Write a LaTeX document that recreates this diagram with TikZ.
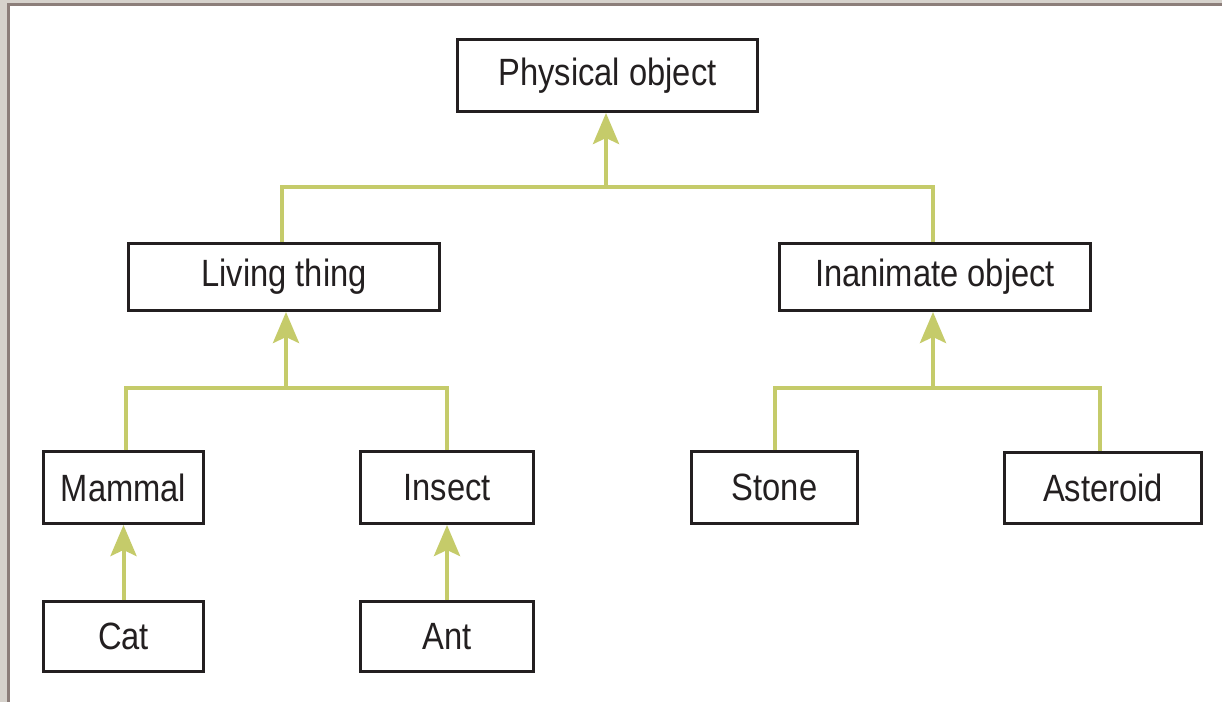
\documentclass[tikz,border=0pt]{standalone}
\usepackage{fontspec}
\setmainfont{Liberation Sans}[FakeStretch=0.86]
\usetikzlibrary{arrows.meta}
\definecolor{conncol}{RGB}{197,203,106}
\definecolor{boxcol}{RGB}{35,31,32}
\definecolor{bggray}{RGB}{214,210,204}
\definecolor{framecol}{RGB}{140,126,122}
\begin{document}
\begin{tikzpicture}[x=1pt,y=-1pt,
  box/.style={draw=boxcol,line width=3pt,fill=white,inner sep=0pt,
    font=\fontsize{38}{42}\selectfont,text=boxcol},
  conn/.style={draw=conncol,line width=4pt},
  arr/.style={conn,-{Stealth[length=31pt,width=26pt,inset=6pt]}}]
\useasboundingbox (0,0) rectangle (1222,702);
\fill[bggray] (0,0) rectangle (1222,702);
\fill[framecol] (7,3) rectangle (1222,702);
\fill[white] (10,6) rectangle (1222,702);
% nodes
\node[box,minimum width=300pt,minimum height=72pt] (phys) at (607.5,75.5) {Physical object};
\node[box,minimum width=311pt,minimum height=67pt] (living) at (284,277) {Living thing};
\node[box,minimum width=311pt,minimum height=67pt] (inan) at (935,277) {Inanimate object};
\node[box,minimum width=160pt,minimum height=72pt] (mammal) at (123.5,487.5) {Mammal};
\node[box,minimum width=173pt,minimum height=72pt] (insect) at (447,487.5) {Insect};
\node[box,minimum width=166pt,minimum height=72pt] (stone) at (774.5,487.5) {Stone};
\node[box,minimum width=197pt,minimum height=71pt] (asteroid) at (1103,488) {Asteroid};
\node[box,minimum width=160pt,minimum height=70pt] (cat) at (123.5,636.5) {Cat};
\node[box,minimum width=173pt,minimum height=70pt] (ant) at (447,636.5) {Ant};
% junctions
\coordinate (j1) at (606,187);
\coordinate (j2) at (286,388);
\coordinate (j3) at (933,388);
% connectors
\draw[conn] (living.north -| 282,0) |- (j1) -| (inan.north -| j3);
\draw[arr] (j1) -- (phys.south -| j1);
\draw[conn] (mammal.north -| 126,0) |- (j2) -| (insect.north);
\draw[arr] (j2) -- (living.south -| j2);
\draw[conn] (stone.north) |- (j3) -| (asteroid.north -| 1100,0);
\draw[arr] (j3) -- (inan.south -| j3);
\draw[arr] (cat.north) -- (mammal.south);
\draw[arr] (ant.north) -- (insect.south);
\end{tikzpicture}
\end{document}
